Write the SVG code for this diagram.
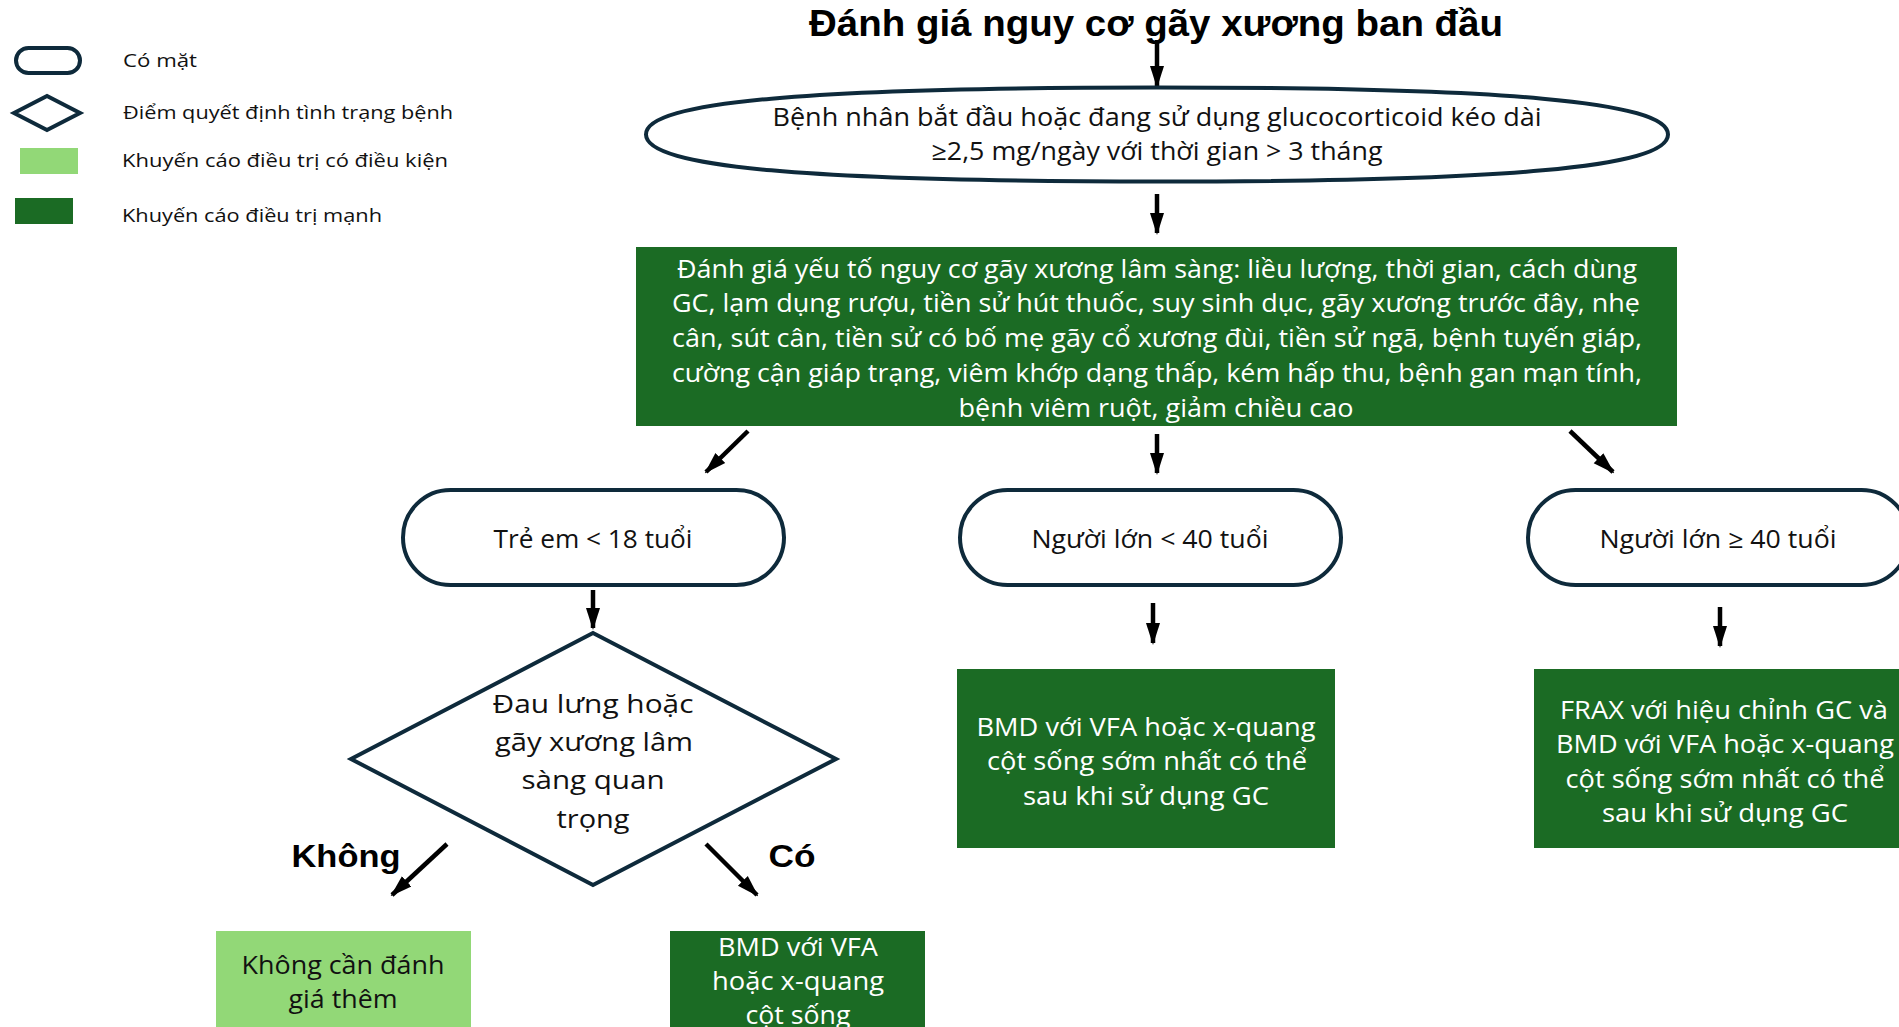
<svg xmlns="http://www.w3.org/2000/svg" width="1899" height="1027" viewBox="0 0 1899 1027">
<style>
.t{font-family:"Open Sans","Liberation Sans",sans-serif;font-size:25px;fill:#111;text-anchor:middle}
.w{fill:#fff}
.b{font-family:"Liberation Sans",Arial,sans-serif;font-weight:bold;fill:#000;text-anchor:middle}
.lg{font-family:"Open Sans","Liberation Sans",sans-serif;font-size:19px;fill:#111}
.out{fill:#fff;stroke:#0e2a3b;stroke-width:4}
.dk{fill:#1b6b24}
.lt{fill:#92d877}
.ar{stroke:#000;stroke-width:4.5;fill:none;marker-end:url(#ah)}
</style>
<defs>
<marker id="ah" markerUnits="userSpaceOnUse" markerWidth="22" markerHeight="24" refX="20" refY="7" orient="auto" viewBox="0 0 22 14">
<path d="M0,0 L22,7 L0,14 Z" fill="#000"/>
</marker>
</defs>
<rect width="1899" height="1027" fill="#fff"/>

<g id="legend">
<rect x="16" y="48" width="64" height="25" rx="12.5" class="out"/>
<text class="lg" x="123" y="67" textLength="74" lengthAdjust="spacingAndGlyphs">Có mặt</text>
<polygon points="14,113 47,96 80,113 47,130" class="out"/>
<text class="lg" x="123" y="119" textLength="330" lengthAdjust="spacingAndGlyphs">Điểm quyết định tình trạng bệnh</text>
<rect x="20" y="148" width="58" height="26" class="lt"/>
<text class="lg" x="122" y="167" textLength="326" lengthAdjust="spacingAndGlyphs">Khuyến cáo điều trị có điều kiện</text>
<rect x="15" y="198" width="58" height="26" class="dk"/>
<text class="lg" x="122" y="222" textLength="260" lengthAdjust="spacingAndGlyphs">Khuyến cáo điều trị mạnh</text>
</g>

<g id="title">
<text class="b" x="1156" y="36" font-size="36" textLength="694" lengthAdjust="spacingAndGlyphs">Đánh giá nguy cơ gãy xương ban đầu</text>
</g>

<g id="connectors">
<line class="ar" x1="1157" y1="40" x2="1157" y2="86"/>
<line class="ar" x1="1157" y1="194" x2="1157" y2="233"/>
<line class="ar" x1="748" y1="431" x2="706" y2="472"/>
<line class="ar" x1="1157" y1="434" x2="1157" y2="473"/>
<line class="ar" x1="1570" y1="431" x2="1613" y2="472"/>
<line class="ar" x1="593" y1="590" x2="593" y2="628"/>
<line class="ar" x1="1153" y1="603" x2="1153" y2="643"/>
<line class="ar" x1="1720" y1="607" x2="1720" y2="646"/>
<line class="ar" x1="447" y1="844" x2="392" y2="895"/>
<line class="ar" x1="706" y1="844" x2="757" y2="895"/>
</g>

<g id="start">
<path d="M646,134.5 C646,101.6 810,87.5 1157,87.5 C1504,87.5 1668,101.6 1668,134.5 C1668,167.4 1504,181.5 1157,181.5 C810,181.5 646,167.4 646,134.5 Z" class="out"/>
<text class="t" x="1157" y="126" textLength="769" lengthAdjust="spacingAndGlyphs">Bệnh nhân bắt đầu hoặc đang sử dụng glucocorticoid kéo dài</text>
<text class="t" x="1157" y="160" textLength="451" lengthAdjust="spacingAndGlyphs">≥2,5 mg/ngày với thời gian &gt; 3 tháng</text>
</g>

<g id="risk-factors">
<rect x="636" y="247" width="1041" height="179" class="dk"/>
<text class="t w" x="1157" y="278" textLength="960" lengthAdjust="spacingAndGlyphs">Đánh giá yếu tố nguy cơ gãy xương lâm sàng: liều lượng, thời gian, cách dùng</text>
<text class="t w" x="1156" y="312" textLength="968" lengthAdjust="spacingAndGlyphs">GC, lạm dụng rượu, tiền sử hút thuốc, suy sinh dục, gãy xương trước đây, nhẹ</text>
<text class="t w" x="1157" y="347" textLength="970" lengthAdjust="spacingAndGlyphs">cân, sút cân, tiền sử có bố mẹ gãy cổ xương đùi, tiền sử ngã, bệnh tuyến giáp,</text>
<text class="t w" x="1157" y="382" textLength="970" lengthAdjust="spacingAndGlyphs">cường cận giáp trạng, viêm khớp dạng thấp, kém hấp thu, bệnh gan mạn tính,</text>
<text class="t w" x="1156" y="417" textLength="395" lengthAdjust="spacingAndGlyphs">bệnh viêm ruột, giảm chiều cao</text>
</g>

<g id="children">
<rect x="403" y="490" width="381" height="95" rx="47.5" class="out"/>
<text class="t" x="593" y="548" textLength="199" lengthAdjust="spacingAndGlyphs">Trẻ em &lt; 18 tuổi</text>
</g>

<g id="adult-under-40">
<rect x="960" y="490" width="381" height="95" rx="47.5" class="out"/>
<text class="t" x="1150" y="548" textLength="237" lengthAdjust="spacingAndGlyphs">Người lớn &lt; 40 tuổi</text>
</g>

<g id="adult-over-40">
<rect x="1528" y="490" width="381" height="95" rx="47.5" class="out"/>
<text class="t" x="1718" y="548" textLength="237" lengthAdjust="spacingAndGlyphs">Người lớn ≥ 40 tuổi</text>
</g>

<g id="decision">
<polygon points="593,633 836,759 593,885 351,759" class="out"/>
<text class="t" x="593" y="713" font-size="27" textLength="201" lengthAdjust="spacingAndGlyphs">Đau lưng hoặc</text>
<text class="t" x="594" y="751" font-size="27" textLength="198" lengthAdjust="spacingAndGlyphs">gãy xương lâm</text>
<text class="t" x="593" y="789" font-size="27" textLength="143" lengthAdjust="spacingAndGlyphs">sàng quan</text>
<text class="t" x="593" y="828" font-size="27" textLength="73" lengthAdjust="spacingAndGlyphs">trọng</text>
</g>

<g id="label-khong">
<text class="b" x="346" y="867" font-size="32" textLength="109" lengthAdjust="spacingAndGlyphs">Không</text>
</g>
<g id="label-co">
<text class="b" x="792" y="867" font-size="32" textLength="47" lengthAdjust="spacingAndGlyphs">Có</text>
</g>

<g id="bmd-under-40">
<rect x="957" y="669" width="378" height="179" class="dk"/>
<text class="t w" x="1146" y="736" textLength="339" lengthAdjust="spacingAndGlyphs">BMD với VFA hoặc x-quang</text>
<text class="t w" x="1147" y="770" textLength="320" lengthAdjust="spacingAndGlyphs">cột sống sớm nhất có thể</text>
<text class="t w" x="1146" y="805" textLength="246" lengthAdjust="spacingAndGlyphs">sau khi sử dụng GC</text>
</g>

<g id="frax-over-40">
<rect x="1534" y="669" width="380" height="179" class="dk"/>
<text class="t w" x="1724" y="719" textLength="328" lengthAdjust="spacingAndGlyphs">FRAX với hiệu chỉnh GC và</text>
<text class="t w" x="1725" y="753" textLength="338" lengthAdjust="spacingAndGlyphs">BMD với VFA hoặc x-quang</text>
<text class="t w" x="1725" y="788" textLength="319" lengthAdjust="spacingAndGlyphs">cột sống sớm nhất có thể</text>
<text class="t w" x="1725" y="822" textLength="246" lengthAdjust="spacingAndGlyphs">sau khi sử dụng GC</text>
</g>

<g id="no-further">
<rect x="216" y="931" width="255" height="110" class="lt"/>
<text class="t" x="343" y="974" textLength="203" lengthAdjust="spacingAndGlyphs">Không cần đánh</text>
<text class="t" x="343" y="1008" textLength="109" lengthAdjust="spacingAndGlyphs">giá thêm</text>
</g>

<g id="bmd-children">
<rect x="670" y="931" width="255" height="110" class="dk"/>
<text class="t w" x="798" y="956" textLength="160" lengthAdjust="spacingAndGlyphs">BMD với VFA</text>
<text class="t w" x="798" y="990" textLength="172" lengthAdjust="spacingAndGlyphs">hoặc x-quang</text>
<text class="t w" x="798" y="1024" textLength="105" lengthAdjust="spacingAndGlyphs">cột sống</text>
</g>
</svg>
